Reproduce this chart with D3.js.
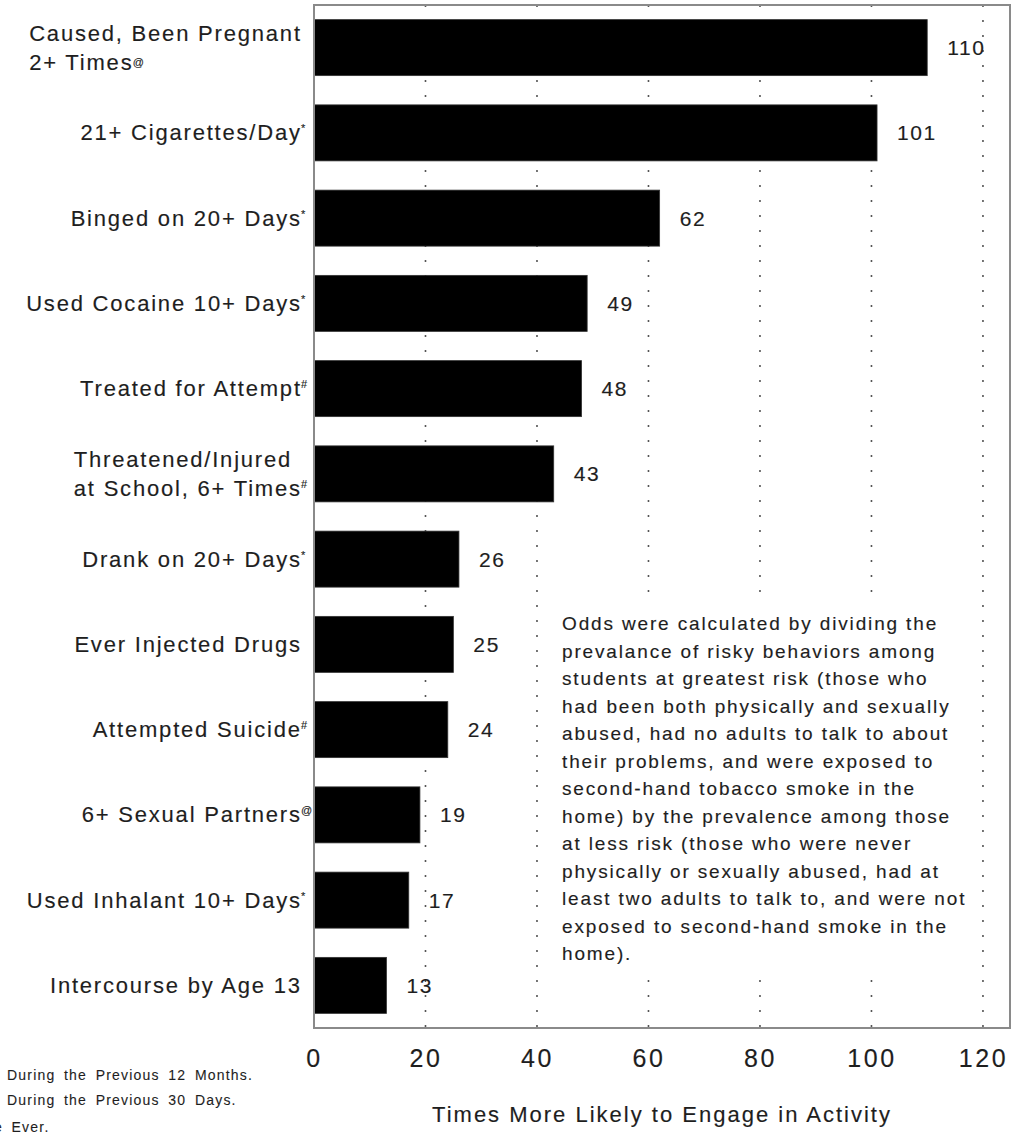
<!DOCTYPE html>
<html>
<head>
<meta charset="utf-8">
<script src="https://cdn.jsdelivr.net/npm/d3@7"></script>
<style>
  body { margin: 0; background: #fff; }
  text { font-family: "Liberation Sans", Arial, Helvetica, sans-serif; fill: #1e1e1e; stroke: #1e1e1e; stroke-width: 0.15px; }
</style>
</head>
<body>
<div id="chart"></div>
<script>
// values, top bar first
const categories = [
    ['Caused, Been Pregnant', '2+ Times'],
    ['21+ Cigarettes/Day'],
    ['Binged on 20+ Days'],
    ['Used Cocaine 10+ Days'],
    ['Treated for Attempt'],
    ['Threatened/Injured', 'at School, 6+ Times'],
    ['Drank on 20+ Days'],
    ['Ever Injected Drugs'],
    ['Attempted Suicide'],
    ['6+ Sexual Partners'],
    ['Used Inhalant 10+ Days'],
    ['Intercourse by Age 13']
];
const marks = ['@', '*', '*', '*', '#', '#', '*', '', '#', '@', '*', ''];
const odds = [110, 101, 62, 49, 48, 43, 26, 25, 24, 19, 17, 13];
const xTicks = [0, 20, 40, 60, 80, 100, 120];

const note = [
    'Odds were calculated by dividing the',
    'prevalance of risky behaviors among',
    'students at greatest risk (those who',
    'had been both physically and sexually',
    'abused, had no adults to talk to about',
    'their problems, and were exposed to',
    'second-hand tobacco smoke in the',
    'home) by the prevalence among those',
    'at less risk (those who were never',
    'physically or sexually abused, had at',
    'least two adults to talk to, and were not',
    'exposed to second-hand smoke in the',
    'home).'
];
const footnotes = ['During the Previous 12 Months.', 'During the Previous 30 Days.', 'e Ever.'];
const axisTitle = 'Times More Likely to Engage in Activity';

const W = 1013, H = 1141;
const plotL = 314, plotR = 1010, plotT = 5, plotB = 1028;

const svg = d3.select('#chart').append('svg')
    .attr('width', W)
    .attr('height', H);

const x = d3.scaleLinear().domain([0, 124.85]).range([plotL, plotR]);
const y = d3.scaleBand()
    .domain(d3.range(categories.length))
    .range([plotT, plotB])
    .paddingInner(0.343)
    .paddingOuter(0.1715);

// dotted gridlines
svg.selectAll('.grid')
    .data(xTicks.filter(d => d > 0))
    .enter().append('line')
    .attr('class', 'grid')
    .attr('x1', d => x(d)).attr('x2', d => x(d))
    .attr('y1', plotT).attr('y2', plotB)
    .style('stroke', '#555')
    .style('stroke-width', 1.6)
    .style('stroke-dasharray', '2,13');

// bars
svg.selectAll('.bar')
    .data(odds)
    .enter().append('rect')
    .attr('class', 'bar')
    .attr('x', x(0))
    .attr('y', (d, i) => y(i))
    .attr('width', d => x(d) - x(0))
    .attr('height', y.bandwidth())
    .style('fill', '#000')
    .style('stroke', '#333')
    .style('stroke-width', 0.8);

// value labels
svg.selectAll('.val')
    .data(odds)
    .enter().append('text')
    .attr('class', 'val')
    .attr('x', d => x(d) + 20)
    .attr('y', (d, i) => y(i) + y.bandwidth() / 2 + 7.5)
    .style('font-size', '21px')
    .style('letter-spacing', '1.6px')
    .text(d => d);

// white box behind the note
svg.append('rect')
    .attr('x', 550).attr('y', 600)
    .attr('width', 422).attr('height', 368)
    .style('fill', '#fff');

// category labels (multi-line ones are left aligned inside a right aligned block)
const labelEnd = 300;
categories.forEach((lines, i) => {
    const cy = y(i) + y.bandwidth() / 2;
    const lh = 29;
    const g = svg.append('g');
    const txt = lines.map((s, j) => g.append('text')
        .attr('y', cy + 7.5 + (j - (lines.length - 1) / 2) * lh)
        .style('font-size', '22px')
        .style('letter-spacing', '1.8px')
        .text(s));
    const widths = txt.map(t => t.node().getComputedTextLength());
    const maxW = d3.max(widths);
    txt.forEach(t => t.attr('x', labelEnd - maxW + 1.8));
    if (marks[i]) {
        const last = txt.length - 1;
        g.append('text')
            .attr('x', labelEnd - maxW + widths[last] + 1)
            .attr('y', cy + 7.5 + (last - (lines.length - 1) / 2) * lh - (marks[i] === '@' && lines.length > 1 ? 4 : 8))
            .style('font-size', '11px')
            .text(marks[i]);
    }
});

// frame
svg.append('rect')
    .attr('x', plotL).attr('y', plotT)
    .attr('width', plotR - plotL).attr('height', plotB - plotT)
    .style('fill', 'none')
    .style('stroke', '#8a8a8a')
    .style('stroke-width', 2);

// x axis
const xAxis = svg.append('g')
    .attr('transform', `translate(0,${plotB})`)
    .call(d3.axisBottom(x).tickValues(xTicks).tickSize(0).tickPadding(0));
xAxis.select('.domain').remove();
xAxis.selectAll('text')
    .attr('dy', null)
    .attr('y', 39)
    .style('font-size', '25px')
    .style('letter-spacing', '2.5px')
    .style('font-family', '"Liberation Sans", Arial, sans-serif')
    .style('fill', '#1e1e1e')
    .style('stroke', '#1e1e1e')
    .style('stroke-width', '0.15px');

svg.append('text')
    .attr('x', (plotL + plotR) / 2)
    .attr('y', 1122)
    .attr('text-anchor', 'middle')
    .style('font-size', '22px')
    .style('letter-spacing', '2px')
    .text(axisTitle);

// note
svg.append('g').selectAll('text')
    .data(note)
    .enter().append('text')
    .attr('x', 562)
    .attr('y', (d, i) => 630 + i * 27.5)
    .style('font-size', '19px')
    .style('letter-spacing', '1.85px')
    .text(d => d);

// footnotes, their symbols are cut off at the left edge
svg.selectAll('.foot')
    .data(footnotes)
    .enter().append('text')
    .attr('class', 'foot')
    .attr('x', (d, i) => i === 2 ? -6 : 7)
    .attr('y', (d, i) => [1080, 1105, 1132][i])
    .style('font-size', '14px')
    .style('letter-spacing', '1.2px')
    .style('word-spacing', '3.5px')
    .style('stroke-width', '0.1px')
    .text(d => d);
</script>
</body>
</html>
